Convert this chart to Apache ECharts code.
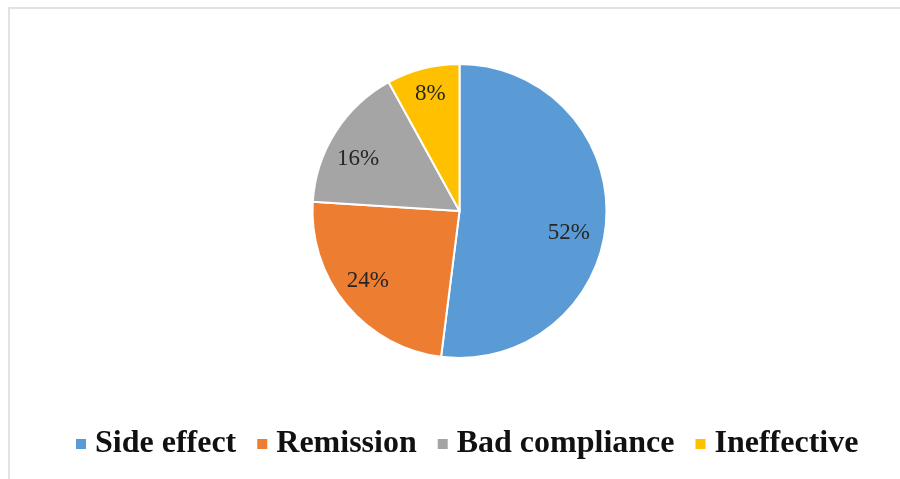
<!DOCTYPE html>
<html>
<head>
<meta charset="utf-8">
<script src="https://cdn.jsdelivr.net/npm/echarts@6/dist/echarts.min.js"></script>
<style>
  html, body { margin: 0; padding: 0; background: #fff; }
  #chart { width: 900px; height: 479px; }
</style>
</head>
<body>
<div id="chart"></div>
<script>
// Reasons for discontinuation (share of cases, %)
const categories = ['Side effect', 'Remission', 'Bad compliance', 'Ineffective'];
const shares = [52, 24, 16, 8];
const colors = ['#5B9BD5', '#ED7D31', '#A5A5A5', '#FFC000'];

// small nudges so each percentage sits where it reads best inside its slice
const labelNudge = [[-8, 15], [-1, -5], [-2, 11], [0, -3]];

const center = [459.5, 211];
const R = 147;

const chart = echarts.init(document.getElementById('chart'), null, { renderer: 'canvas' });
chart.setOption({
  animation: false,
  backgroundColor: '#fff',
  color: colors,
  graphic: [{
    type: 'rect',
    shape: { x: 9, y: 8, width: 1000, height: 1000 },
    style: { fill: 'none', stroke: '#e2e2e2', lineWidth: 2 },
    silent: true
  }],
  legend: {
    data: categories,
    left: 74,
    top: 428,
    padding: 0,
    icon: 'rect',
    itemWidth: 12,
    itemHeight: 12,
    itemGap: 19,
    textStyle: {
      fontFamily: 'Liberation Serif',
      fontWeight: 'bold',
      fontSize: 32,
      color: '#111',
      padding: [0, 0, 0, 3]
    }
  },
  series: [
    {
      type: 'pie',
      center: center,
      radius: [0, R],
      startAngle: 90,
      clockwise: true,
      data: categories.map((name, i) => ({ name, value: shares[i] })),
      label: { show: false },
      labelLine: { show: false },
      itemStyle: { borderColor: '#fff', borderWidth: 2 },
      emphasis: { disabled: true }
    },
    {
      // transparent ring that carries the percentage labels at ~0.78 R
      type: 'pie',
      center: center,
      radius: [R * 0.56, R],
      startAngle: 90,
      clockwise: true,
      silent: true,
      data: categories.map((name, i) => ({
        name,
        value: shares[i],
        label: { offset: labelNudge[i] }
      })),
      itemStyle: { color: 'rgba(0,0,0,0)' },
      label: {
        show: true,
        position: 'inside',
        formatter: p => p.value + '%',
        fontFamily: 'Liberation Serif',
        fontSize: 23,
        color: '#262626'
      },
      labelLine: { show: false },
      emphasis: { disabled: true }
    }
  ]
});
</script>
</body>
</html>
